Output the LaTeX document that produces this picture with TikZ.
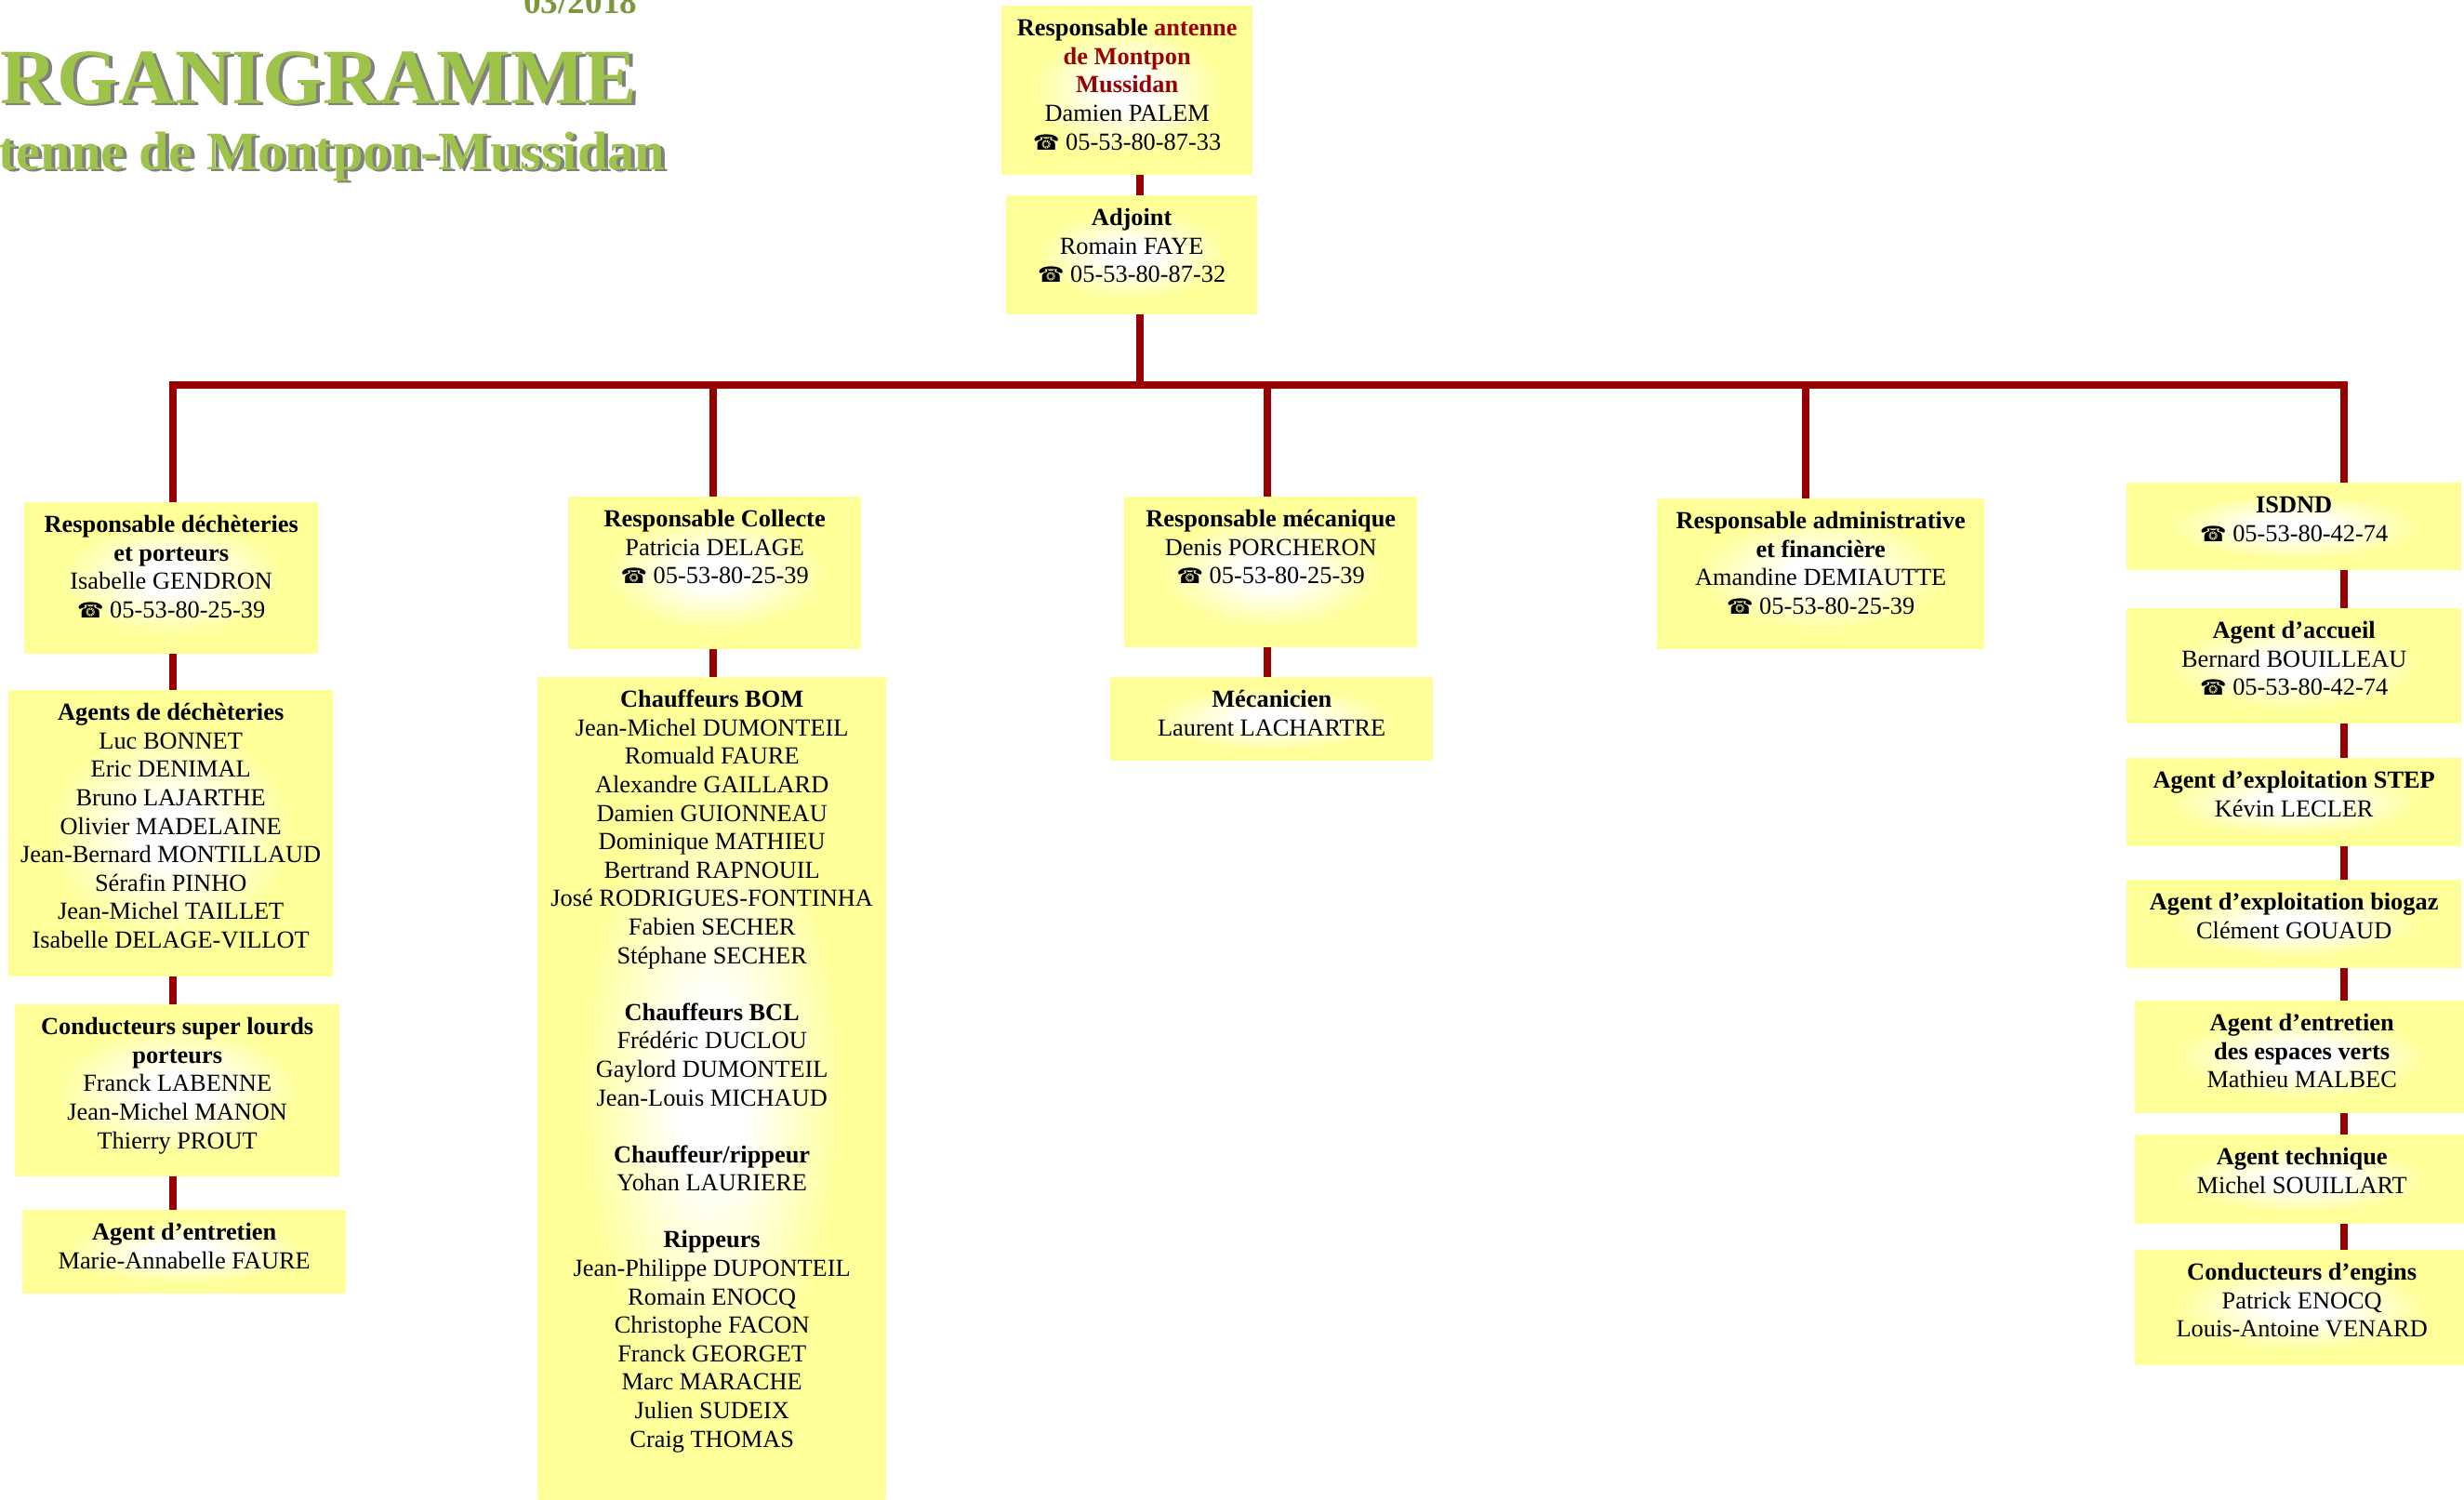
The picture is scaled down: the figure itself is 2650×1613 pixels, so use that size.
\documentclass[tikz,border=0pt]{standalone}
\usepackage{fontspec}
\setmainfont{Liberation Serif}
\newfontfamily\symbole{DejaVu Sans}
\usetikzlibrary{positioning}

\definecolor{bordeaux}{HTML}{990000}
\definecolor{jaune}{HTML}{FFFF99}
\definecolor{vertclair}{HTML}{9DC34A}
\definecolor{vertfonce}{HTML}{7E963C}
\definecolor{ombre}{HTML}{808080}
\pgfdeclareradialshading{halo}{\pgfpoint{0bp}{0bp}}{color(0bp)=(white); color(5bp)=(white); color(19bp)=(jaune); color(50bp)=(jaune)}

\newlength{\pix}\setlength{\pix}{0.01cm}
\newcommand\tel{{\symbole\fontsize{6.5}{8}\selectfont ☎}~}
\newcommand\boite[3]{\parbox[c][#2\pix][t]{#1\pix}{\centering\rule{0pt}{9.1pt}#3}}

\begin{document}
\begin{tikzpicture}[x=0.01cm, y=-0.01cm,
    cadre/.style={anchor=north west, inner sep=0pt, shading=halo, font=\fontsize{7.5}{8.7}\selectfont},
    lien/.style={bordeaux, line width=2.2pt},
    titre/.style={anchor=base east, inner sep=0pt, font=\bfseries\fontsize{24}{24}\selectfont}]
    \useasboundingbox (0,0) rectangle (2650,1613);

    % --- Titre ---
    \node[anchor=base east, inner sep=0pt, text=vertfonce, font=\bfseries\fontsize{10.6}{11}\selectfont] (date) at (686,15) {03/2018};
    \node[titre, text=ombre] (titreombre) at (690,114) {RGANIGRAMME};
    \node[titre, text=vertclair] (titre) at (686,112) {RGANIGRAMME};
    \node[titre, text=ombre, font=\bfseries\fontsize{16.6}{17}\selectfont] (antombre) at (720,185) {tenne de Montpon-Mussidan};
    \node[titre, text=vertclair, font=\bfseries\fontsize{16.6}{17}\selectfont] (antenne) at (716,183) {tenne de Montpon-Mussidan};

    % --- Direction ---
    \node[cadre] (resp) at (1077,6) {\boite{269}{181}{\textbf{Responsable \textcolor{bordeaux}{antenne}}\\ \textbf{\textcolor{bordeaux}{de Montpon}}\\ \textbf{\textcolor{bordeaux}{Mussidan}}\\ Damien PALEM\\ \tel 05-53-80-87-33}};
    \node[cadre] (adj) at (1082,210) {\boite{269}{127}{\textbf{Adjoint}\\ Romain FAYE\\ \tel 05-53-80-87-32}};

    % --- Déchèteries ---
    \node[cadre] (b1) at (26,540) {\boite{315}{162}{\textbf{Responsable déchèteries}\\ \textbf{et porteurs}\\ Isabelle GENDRON\\ \tel 05-53-80-25-39}};
    \node[cadre] (b2) at (9,742) {\boite{348}{307}{\textbf{Agents de déchèteries}\\ Luc BONNET\\ Eric DENIMAL\\ Bruno LAJARTHE\\ Olivier MADELAINE\\ Jean-Bernard MONTILLAUD\\ Sérafin PINHO\\ Jean-Michel TAILLET\\ Isabelle DELAGE-VILLOT}};
    \node[cadre] (b3) at (16,1080) {\boite{348}{184}{\textbf{Conducteurs super lourds}\\ \textbf{porteurs}\\ Franck LABENNE\\ Jean-Michel MANON\\ Thierry PROUT}};
    \node[cadre] (b4) at (24,1301) {\boite{347}{89}{\textbf{Agent d’entretien}\\ Marie-Annabelle FAURE}};

    % --- Collecte ---
    \node[cadre] (c1) at (611,534) {\boite{314}{163}{\textbf{Responsable Collecte}\\ Patricia DELAGE\\ \tel 05-53-80-25-39}};
    \node[cadre] (c2) at (578,728) {\boite{374}{885}{\textbf{Chauffeurs BOM}\\ Jean-Michel DUMONTEIL\\ Romuald FAURE\\ Alexandre GAILLARD\\ Damien GUIONNEAU\\ Dominique MATHIEU\\ Bertrand RAPNOUIL\\ José RODRIGUES-FONTINHA\\ Fabien SECHER\\ Stéphane SECHER\\[8.7pt]
        \textbf{Chauffeurs BCL}\\ Frédéric DUCLOU\\ Gaylord DUMONTEIL\\ Jean-Louis MICHAUD\\[8.7pt]
        \textbf{Chauffeur/rippeur}\\ Yohan LAURIERE\\[8.7pt]
        \textbf{Rippeurs}\\ Jean-Philippe DUPONTEIL\\ Romain ENOCQ\\ Christophe FACON\\ Franck GEORGET\\ Marc MARACHE\\ Julien SUDEIX\\ Craig THOMAS}};

    % --- Mécanique et administration ---
    \node[cadre] (m1) at (1209,534) {\boite{314}{161}{\textbf{Responsable mécanique}\\ Denis PORCHERON\\ \tel 05-53-80-25-39}};
    \node[cadre] (m2) at (1194,728) {\boite{346}{89}{\textbf{Mécanicien}\\ Laurent LACHARTRE}};
    \node[cadre] (a1) at (1782,536) {\boite{351}{161}{\textbf{Responsable administrative}\\ \textbf{et financière}\\ Amandine DEMIAUTTE\\ \tel 05-53-80-25-39}};

    % --- ISDND ---
    \node[cadre] (i1) at (2287,519) {\boite{359}{93}{\textbf{ISDND}\\ \tel 05-53-80-42-74}};
    \node[cadre] (i2) at (2287,654) {\boite{359}{123}{\textbf{Agent d’accueil}\\ Bernard BOUILLEAU\\ \tel 05-53-80-42-74}};
    \node[cadre] (i3) at (2287,815) {\boite{359}{94}{\textbf{Agent d’exploitation STEP}\\ Kévin LECLER}};
    \node[cadre] (i4) at (2287,946) {\boite{359}{94}{\textbf{Agent d’exploitation biogaz}\\ Clément GOUAUD}};
    \node[cadre] (i5) at (2296,1076) {\boite{358}{120}{\textbf{Agent d’entretien}\\ \textbf{des espaces verts}\\ Mathieu MALBEC}};
    \node[cadre] (i6) at (2296,1220) {\boite{358}{95}{\textbf{Agent technique}\\ Michel SOUILLART}};
    \node[cadre] (i7) at (2296,1344) {\boite{358}{123}{\textbf{Conducteurs d’engins}\\ Patrick ENOCQ\\ Louis-Antoine VENARD}};

    % --- Liaisons ---
    \coordinate (d0) at (1226,414);
    \coordinate (d1) at (186,414); \coordinate (d2) at (767,414); \coordinate (d3) at (1363,414);
    \coordinate (d4) at (1942,414); \coordinate (d5) at (2521,414);

    \draw[lien] (d0 |- resp.south) -- (d0 |- adj.north);
    \draw[lien] (d0 |- adj.south) -- (d0);
    \draw[lien] (d1 |- b1.north) -- (d1) -- (d5) -- (d5 |- i1.north);
    \foreach \d/\n in {d2/c1, d3/m1, d4/a1} \draw[lien] (\d) -- (\d |- \n.north);

    \foreach \a/\b in {b1/b2, b2/b3, b3/b4} \draw[lien] (d1 |- \a.south) -- (d1 |- \b.north);
    \draw[lien] (d2 |- c1.south) -- (d2 |- c2.north);
    \draw[lien] (d3 |- m1.south) -- (d3 |- m2.north);
    \foreach \a/\b in {i1/i2, i2/i3, i3/i4, i4/i5, i5/i6, i6/i7} \draw[lien] (d5 |- \a.south) -- (d5 |- \b.north);
\end{tikzpicture}
\end{document}
